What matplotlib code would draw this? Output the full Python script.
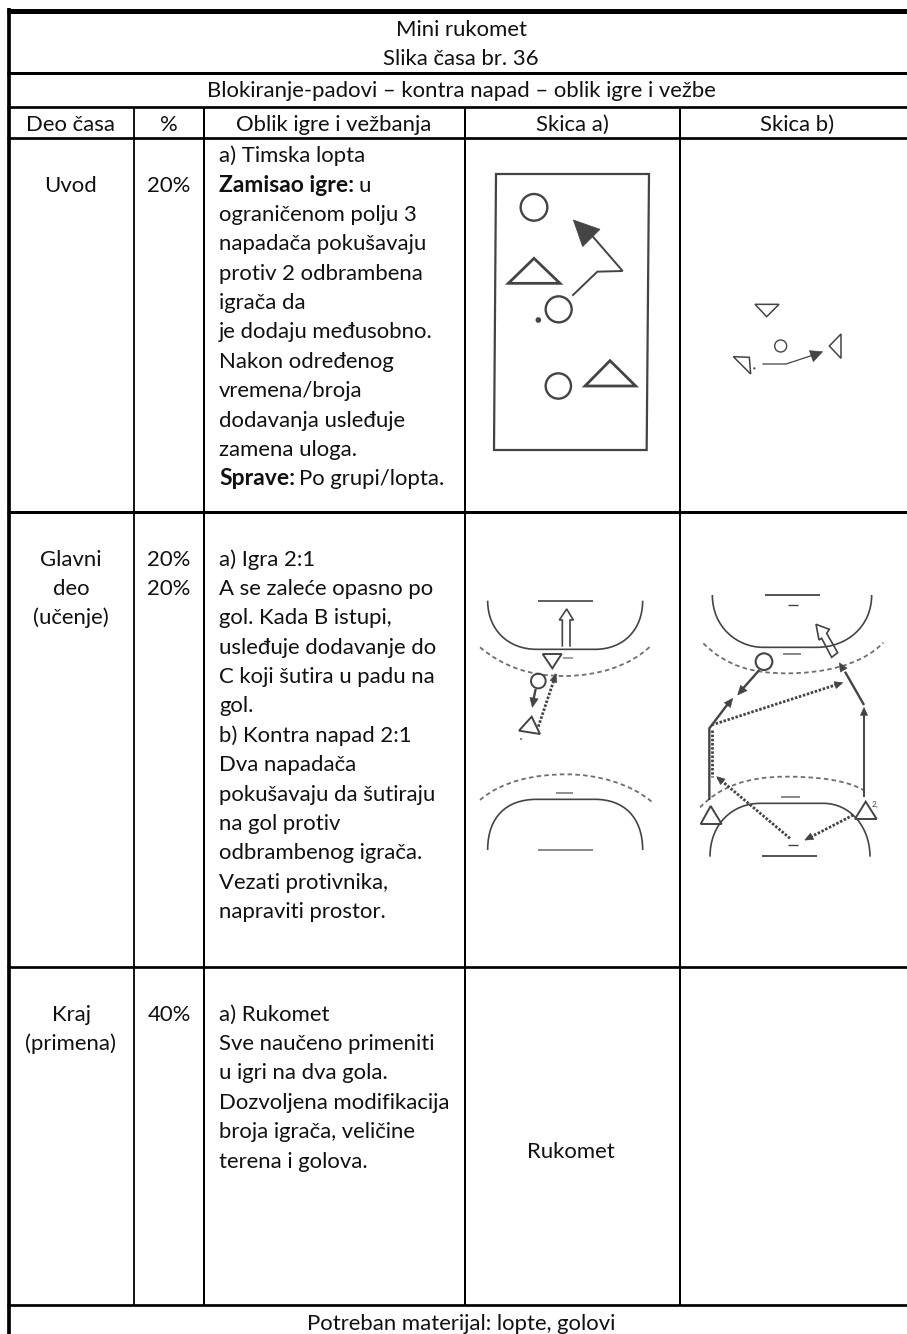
import matplotlib
matplotlib.use('Agg')
import matplotlib.pyplot as plt
from matplotlib.path import Path
from matplotlib.patches import PathPatch, Polygon, Circle

plt.rcParams['font.family'] = ['Lato', 'DejaVu Sans']

FONT = 15.9
FONT_BOLD = 16.5
LINE_H = 29.36
INK = '#111111'
SK = '#444444'
DASH = '#6e6e6e'

# table texts
title_lines = ['Mini rukomet', 'Slika časa br. 36']
subtitle = 'Blokiranje-padovi – kontra napad – oblik igre i vežbe'
col_headers = ['Deo časa', '%', 'Oblik igre i vežbanja', 'Skica a)', 'Skica b)']
footer = 'Potreban materijal: lopte, golovi'

part_1 = ['Uvod']
part_2 = ['Glavni', 'deo', '(učenje)']
part_3 = ['Kraj', '(primena)']
pct_1 = ['20%']
pct_2 = ['20%', '20%']
pct_3 = ['40%']

body_1 = ['a) Timska lopta', '', 'ograničenom polju 3', 'napadača pokušavaju',
          'protiv 2 odbrambena', 'igrača da', 'je dodaju međusobno.',
          'Nakon određenog', 'vremena/broja', 'dodavanja usleđuje',
          'zamena uloga.', '']
body_2 = ['a) Igra 2:1', 'A se zaleće opasno po', 'gol. Kada B istupi,',
          'usleđuje dodavanje do', 'C koji šutira u padu na', 'gol.',
          'b) Kontra napad 2:1', 'Dva napadača', 'pokušavaju da šutiraju',
          'na gol protiv', 'odbrambenog igrača.', 'Vezati protivnika,',
          'napraviti prostor.']
body_3 = ['a) Rukomet', 'Sve naučeno primeniti', 'u igri na dva gola.',
          'Dozvoljena modifikacija', 'broja igrača, veličine', 'terena i golova.']
skica_3 = 'Rukomet'

# grid lines, pixels of the page
col_x = [134.2, 203.7, 465, 679.6]
col_w = [1.8, 2, 2, 2]
row_y = [10.8, 72.5, 106.7, 138, 512.3, 967.3, 1305.3]
row_w = [5, 3, 2.7, 2.7, 3, 2.7, 2.7]

RECT_A = [(78, 72), (537, 72), (530, 900), (72, 900)]
CIRCLES_A = [(192, 172, 40), (266, 478, 39), (265, 708, 38)]
TRIS_A = [[(192, 325), (115, 400), (270, 400)], [(420, 632), (345, 708), (497, 708)]]
ARROW_A = [(307, 437), (382, 365), (458, 363), (360, 250)]
HEAD_A = [(310, 210), (390, 238), (338, 290)]

TRIS_B = [[(855, 463), (927, 463), (890, 500)], [(790, 620), (838, 622), (842, 672)],
          [(1113, 552), (1078, 588), (1113, 625)]]
ARROW_B = [(877, 642), (948, 642), (1030, 615)]
HEAD_B = [(1058, 605), (1018, 602), (1030, 635)]

TRIS_C = [[(218, 252), (275, 252), (247, 295)], [(185, 440), (147, 482), (210, 492)]]
OPEN_C = [(277, 230), (277, 150), (268, 150), (290, 117), (310, 150), (300, 150), (300, 230)]
TRIS_D = [[(722, 708), (692, 762), (755, 762)], [(1187, 695), (1155, 747), (1220, 747)]]
OPEN_D = [(1103, 248), (1085, 262), (1055, 205), (1047, 210), (1038, 163), (1078, 178), (1070, 190)]


def z1(p):
    return (470 + p[0] / 3, 150 + p[1] / 3)


def z2(p):
    return (470 + p[0] / 3, 570 + p[1] / 3)


def poly(ax, pts, conv, fill='none', lw=1.3, color=SK, closed=True):
    ax.add_patch(Polygon([conv(p) for p in pts], closed=closed, facecolor=fill,
                         edgecolor=color, lw=lw, joinstyle='miter'))


def circle(ax, x, y, r, conv, lw=1.3):
    cx, cy = conv((x, y))
    ax.add_patch(Circle((cx, cy), r / 3, facecolor='none', edgecolor=SK, lw=lw))


def line(ax, pts, conv, lw=1.2, color=SK, ls='-'):
    ax.plot([conv(p)[0] for p in pts], [conv(p)[1] for p in pts], color=color, lw=lw, ls=ls,
            solid_capstyle='butt', solid_joinstyle='miter')


def curve(ax, segs, conv, lw=1.2, color=SK, ls='-'):
    # segs: start point, then groups of 3 bezier points or single line points
    verts = [conv(segs[0])]
    codes = [Path.MOVETO]
    for s in segs[1:]:
        if len(s) == 3:
            verts += [conv(p) for p in s]
            codes += [Path.CURVE4] * 3
        else:
            verts.append(conv(s))
            codes.append(Path.LINETO)
    ax.add_patch(PathPatch(Path(verts, codes), facecolor='none', edgecolor=color, lw=lw, ls=ls))


def head(ax, tip, tail, conv, size=24, color=SK):
    # small filled arrow head pointing from tail to tip
    dx, dy = tip[0] - tail[0], tip[1] - tail[1]
    n = (dx * dx + dy * dy) ** 0.5
    dx, dy = dx / n, dy / n
    a = (tip[0] - dx * size + dy * size * 0.45, tip[1] - dy * size - dx * size * 0.45)
    b = (tip[0] - dx * size - dy * size * 0.45, tip[1] - dy * size + dx * size * 0.45)
    ax.add_patch(Polygon([conv(tip), conv(a), conv(b)], closed=True, facecolor=color, edgecolor=color, lw=0.4))


def dotted(ax, start, end, conv):
    line(ax, [start, end], conv, lw=2.0, ls=(0, (0.9, 0.6)))
    head(ax, end, start, conv)


def draw_text(ax, lines, x, y0, ha='left'):
    for i, s in enumerate(lines):
        if s:
            ax.text(x, y0 + i * LINE_H, s, fontsize=FONT, ha=ha, va='baseline', color=INK)


def draw_grid(ax):
    for y, w in zip(row_y, row_w):
        ax.plot([7.4, 907], [y, y], color='black', lw=w * 0.72, solid_capstyle='butt')
    ax.plot([9.2, 9.2], [8.3, 1334], color='black', lw=3.7 * 0.72, solid_capstyle='butt')
    for x, w in zip(col_x, col_w):
        ax.plot([x, x], [row_y[2], row_y[-1]], color='black', lw=w * 0.72, solid_capstyle='butt')


def sketch_a(ax):
    poly(ax, RECT_A, z1, lw=1.6)
    for c in CIRCLES_A:
        circle(ax, c[0], c[1], c[2], z1, lw=1.7)
    for t in TRIS_A:
        poly(ax, t, z1, lw=2.0)
    line(ax, ARROW_A, z1, lw=1.4)
    poly(ax, HEAD_A, z1, fill=SK, lw=0.5)
    cx, cy = z1((205, 510))
    ax.add_patch(Circle((cx, cy), 2.8, facecolor=SK, edgecolor='none'))


def sketch_b(ax):
    for t in TRIS_B:
        poly(ax, t, z1, lw=1.1)
    circle(ax, 932, 588, 18, z1, lw=1.0)
    line(ax, ARROW_B, z1, lw=0.9)
    poly(ax, HEAD_B, z1, fill=SK, lw=0.4)
    cx, cy = z1((853, 655))
    ax.add_patch(Circle((cx, cy), 1.1, facecolor=SK, edgecolor='none'))


def sketch_c(ax):
    line(ax, [(205, 92), (368, 92)], z2)
    curve(ax, [(53, 92), ((53, 180), (115, 238), (200, 238)), (375, 238),
               ((460, 238), (518, 180), (518, 92))], z2)
    poly(ax, OPEN_C, z2, lw=1.2, closed=False)
    for t in TRIS_C:
        poly(ax, t, z2, lw=1.4)
    line(ax, [(280, 263), (308, 263)], z2, color='#999999', lw=1.3)
    curve(ax, [(30, 232), ((100, 290), (180, 318), (280, 318)), ((380, 318), (480, 290), (545, 225))],
          z2, lw=1.3, color=DASH, ls=(0, (2.5, 1.8)))
    circle(ax, 205, 333, 22, z2, lw=1.4)
    line(ax, [(197, 357), (188, 400)], z2, lw=1.7)
    head(ax, (187, 412), (197, 357), z2, size=28)
    dotted(ax, (205, 470), (258, 312), z2)
    cx, cy = z2((153, 507))
    ax.add_patch(Circle((cx, cy), 0.9, facecolor=SK, edgecolor='none'))
    curve(ax, [(30, 690), ((100, 630), (200, 613), (290, 613)), ((380, 613), (480, 640), (545, 695))],
          z2, lw=1.3, color=DASH, ls=(0, (2.5, 1.8)))
    line(ax, [(258, 668), (310, 668)], z2, color='#888888', lw=1.3)
    curve(ax, [(53, 840), ((53, 740), (110, 688), (200, 688)), (375, 688),
               ((460, 688), (518, 740), (518, 840))], z2)
    line(ax, [(205, 840), (368, 840)], z2, color='#777777')


def sketch_d(ax):
    line(ax, [(885, 75), (1050, 75)], z2, lw=1.3)
    line(ax, [(955, 105), (985, 105)], z2, lw=1.0)
    curve(ax, [(727, 75), ((727, 170), (800, 232), (880, 232)), (1040, 232),
               ((1130, 232), (1205, 170), (1205, 75))], z2)
    line(ax, [(940, 253), (992, 253)], z2, color='#888888', lw=1.4)
    curve(ax, [(700, 220), ((770, 290), (850, 310), (950, 310)), ((1050, 310), (1170, 290), (1240, 218))],
          z2, lw=1.3, color=DASH, ls=(0, (2.5, 1.8)))
    poly(ax, OPEN_D, z2, lw=1.2)
    circle(ax, 882, 275, 25, z2, lw=1.5)
    line(ax, [(868, 300), (815, 360)], z2, lw=1.7)
    head(ax, (803, 375), (868, 300), z2, size=28)
    line(ax, [(718, 690), (718, 475), (775, 400)], z2, lw=1.7)
    head(ax, (788, 385), (718, 475), z2, size=26)
    line(ax, [(727, 480), (727, 620)], z2, lw=2.0, ls=(0, (0.9, 0.6)))
    dotted(ax, (725, 465), (1118, 338), z2)
    line(ax, [(1182, 680), (1182, 425)], z2, lw=1.4)
    head(ax, (1182, 412), (1182, 680), z2, size=24)
    line(ax, [(1182, 405), (1125, 305)], z2, lw=1.7)
    head(ax, (1108, 278), (1182, 405), z2, size=26)
    for t in TRIS_D:
        poly(ax, t, z2, lw=1.4)
    ax.text(*z2((1206, 712)), '2,', fontsize=6, color=SK, va='baseline', ha='left')
    curve(ax, [(720, 860), ((720, 760), (790, 700), (870, 700)), (1060, 700),
               ((1140, 700), (1200, 770), (1200, 860))], z2)
    line(ax, [(932, 680), (990, 680)], z2, color='#888888', lw=1.4)
    curve(ax, [(690, 712), ((750, 650), (830, 620), (950, 620)), ((1040, 620), (1130, 630), (1180, 660))],
          z2, lw=1.3, color=DASH, ls=(0, (2.5, 1.8)))
    dotted(ax, (960, 805), (740, 620), z2)
    dotted(ax, (1150, 735), (1005, 810), z2)
    line(ax, [(955, 825), (985, 825)], z2, lw=1.0)
    line(ax, [(877, 858), (1042, 858)], z2, lw=1.3)


def main():
    fig = plt.figure(figsize=(9.07, 13.34), dpi=100)
    ax = fig.add_axes([0, 0, 1, 1])
    ax.set_xlim(0, 907)
    ax.set_ylim(1334, 0)
    ax.axis('off')

    draw_grid(ax)

    draw_text(ax, title_lines, 461, 36, ha='center')
    draw_text(ax, [subtitle], 461, 96.7, ha='center')
    for x, s in zip([71, 169, 334, 572, 797], col_headers):
        draw_text(ax, [s], x, 130.7, ha='center')
    draw_text(ax, [footer], 461, 1330, ha='center')

    draw_text(ax, part_1, 71, 191.7, ha='center')
    draw_text(ax, pct_1, 169, 191.7, ha='center')
    draw_text(ax, body_1, 219, 162.3)
    ax.text(219, 191.7, 'Zamisao igre:', fontsize=FONT_BOLD, fontweight='bold', color=INK, va='baseline')
    ax.text(358, 191.7, 'u', fontsize=FONT, color=INK, va='baseline')
    ax.text(219, 485, 'Sprave:', fontsize=FONT_BOLD, fontweight='bold', color=INK, va='baseline')
    ax.text(299, 485, 'Po grupi/lopta.', fontsize=FONT, color=INK, va='baseline')

    draw_text(ax, part_2, 71, 565.7, ha='center')
    draw_text(ax, pct_2, 169, 565.7, ha='center')
    draw_text(ax, body_2, 219, 565.7)

    draw_text(ax, part_3, 71, 1020.7, ha='center')
    draw_text(ax, pct_3, 169, 1020.7, ha='center')
    draw_text(ax, body_3, 219, 1020.7)
    draw_text(ax, [skica_3], 571, 1158.3, ha='center')

    sketch_a(ax)
    sketch_b(ax)
    sketch_c(ax)
    sketch_d(ax)

    fig.savefig('out.png', dpi=100)
    plt.close(fig)


if __name__ == '__main__':
    main()
